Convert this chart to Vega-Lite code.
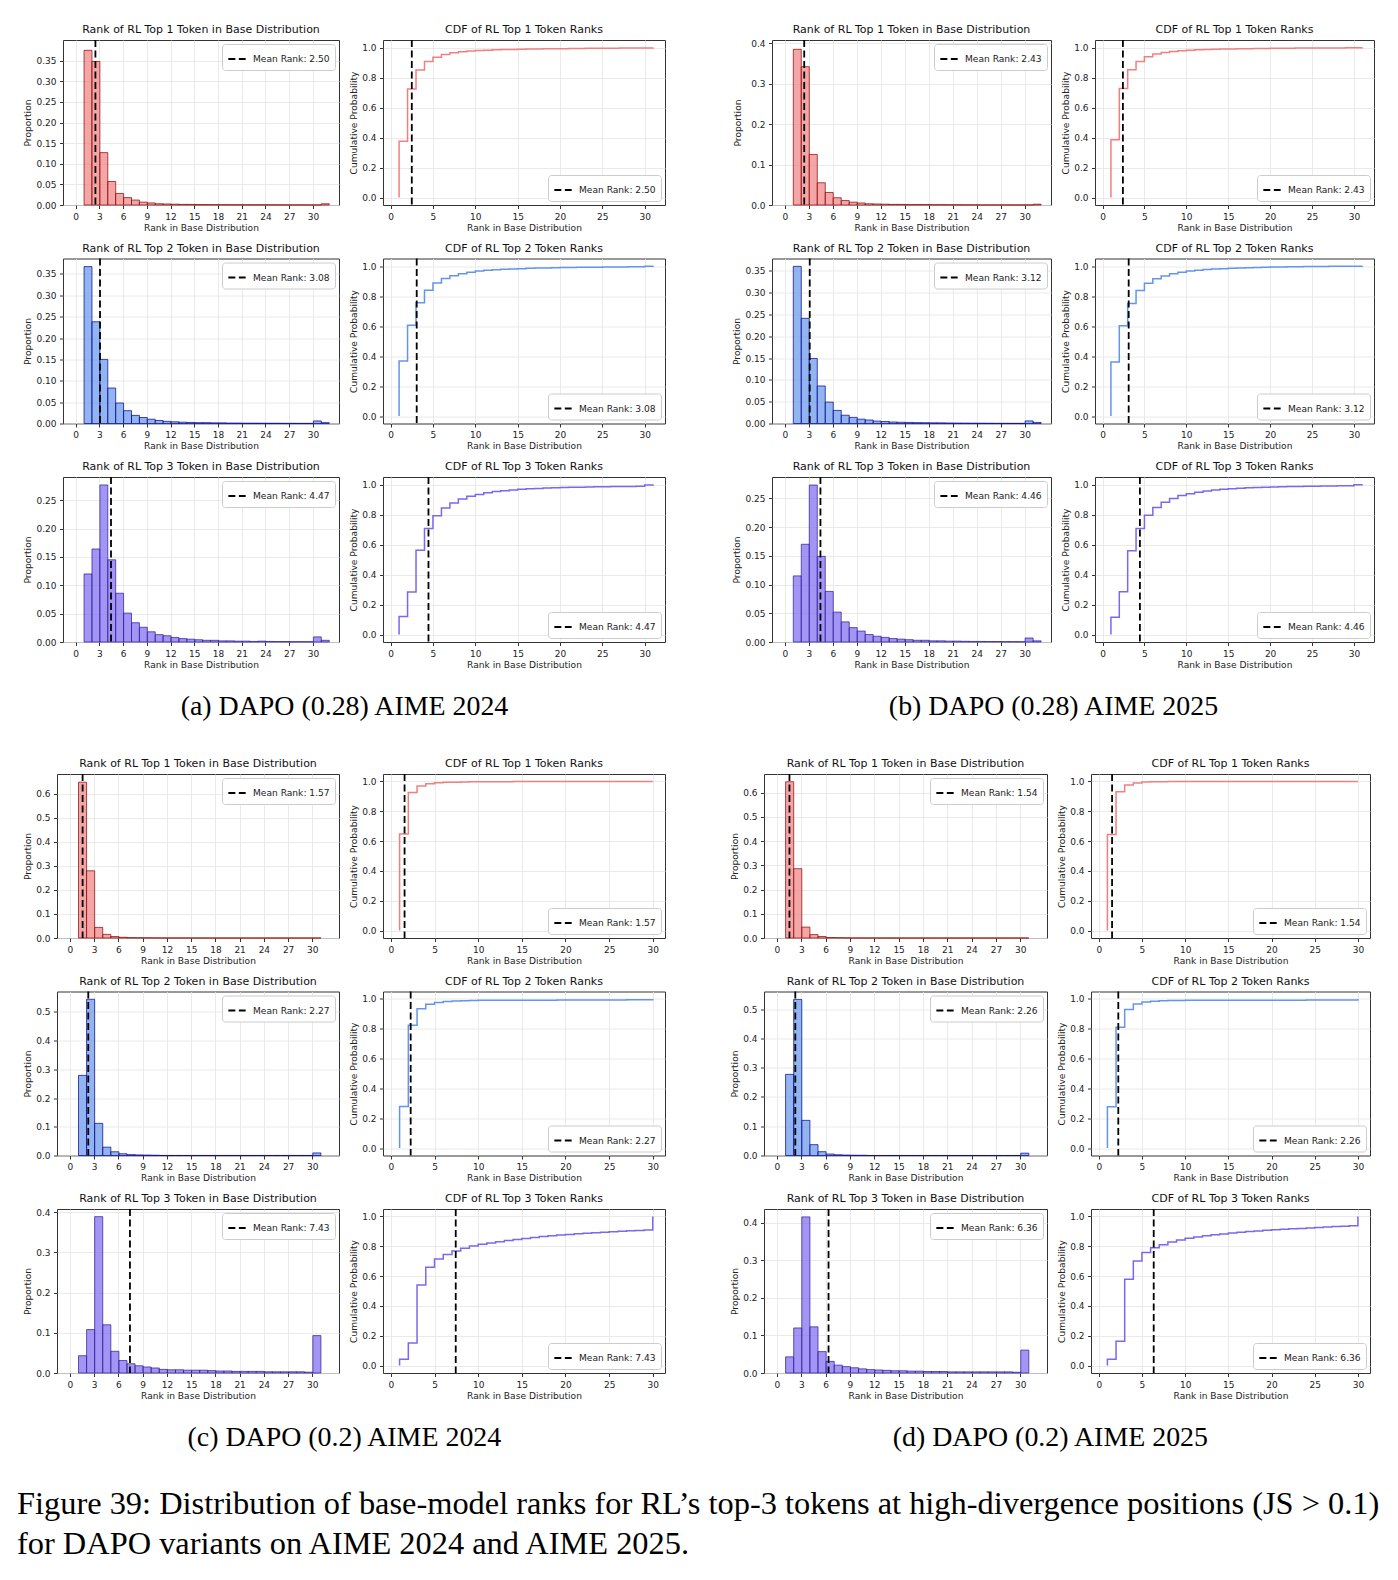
{
"$schema": "https://vega.github.io/schema/vega-lite/v6.json",
"background": "white",
"padding": {"left": 17, "top": 23, "right": 0, "bottom": 0},
"datasets": {
"d": [
{"g":"a1","r":1,"c":0},
{"g":"a1","r":1,"p":0.375,"c":0.375},{"g":"a1","r":2,"p":0.348,"c":0.723},{"g":"a1","r":3,"p":0.127,"c":0.85},{"g":"a1","r":4,"p":0.057,"c":0.907},{"g":"a1","r":5,"p":0.028,"c":0.935},{"g":"a1","r":6,"p":0.018,"c":0.953},{"g":"a1","r":7,"p":0.012,"c":0.965},{"g":"a1","r":8,"p":0.007,"c":0.972},{"g":"a1","r":9,"p":0.005,"c":0.977},{"g":"a1","r":10,"p":0.003,"c":0.98},{"g":"a1","r":11,"p":0.0025,"c":0.9825},{"g":"a1","r":12,"p":0.002,"c":0.9845},{"g":"a1","r":13,"p":0.0015,"c":0.986},{"g":"a1","r":14,"p":0.0015,"c":0.9875},{"g":"a1","r":15,"p":0.001,"c":0.9885},{"g":"a1","r":16,"p":0.001,"c":0.9895},{"g":"a1","r":17,"p":0.0008,"c":0.9903},{"g":"a1","r":18,"p":0.0008,"c":0.9911},{"g":"a1","r":19,"p":0.0007,"c":0.9918},{"g":"a1","r":20,"p":0.0007,"c":0.9925},{"g":"a1","r":21,"p":0.0006,"c":0.9931},{"g":"a1","r":22,"p":0.0006,"c":0.9937},{"g":"a1","r":23,"p":0.0005,"c":0.9942},{"g":"a1","r":24,"p":0.0005,"c":0.9947},{"g":"a1","r":25,"p":0.0005,"c":0.9952},{"g":"a1","r":26,"p":0.0004,"c":0.9956},{"g":"a1","r":27,"p":0.0004,"c":0.996},{"g":"a1","r":28,"p":0.0004,"c":0.9964},{"g":"a1","r":29,"p":0.0003,"c":0.9967},{"g":"a1","r":30,"p":0.0003,"c":0.997},{"g":"a1","r":31,"p":0.003,"c":1},
{"g":"a2","r":1,"c":0},
{"g":"a2","r":1,"p":0.367,"c":0.367},{"g":"a2","r":2,"p":0.238,"c":0.605},{"g":"a2","r":3,"p":0.15,"c":0.755},{"g":"a2","r":4,"p":0.083,"c":0.838},{"g":"a2","r":5,"p":0.048,"c":0.886},{"g":"a2","r":6,"p":0.03,"c":0.916},{"g":"a2","r":7,"p":0.019,"c":0.935},{"g":"a2","r":8,"p":0.014,"c":0.949},{"g":"a2","r":9,"p":0.01,"c":0.959},{"g":"a2","r":10,"p":0.007,"c":0.966},{"g":"a2","r":11,"p":0.005,"c":0.971},{"g":"a2","r":12,"p":0.004,"c":0.975},{"g":"a2","r":13,"p":0.003,"c":0.978},{"g":"a2","r":14,"p":0.0025,"c":0.9805},{"g":"a2","r":15,"p":0.002,"c":0.9825},{"g":"a2","r":16,"p":0.002,"c":0.9845},{"g":"a2","r":17,"p":0.0015,"c":0.986},{"g":"a2","r":18,"p":0.0015,"c":0.9875},{"g":"a2","r":19,"p":0.001,"c":0.9885},{"g":"a2","r":20,"p":0.001,"c":0.9895},{"g":"a2","r":21,"p":0.0008,"c":0.9903},{"g":"a2","r":22,"p":0.0008,"c":0.9911},{"g":"a2","r":23,"p":0.0007,"c":0.9918},{"g":"a2","r":24,"p":0.0006,"c":0.9924},{"g":"a2","r":25,"p":0.0006,"c":0.993},{"g":"a2","r":26,"p":0.0005,"c":0.9935},{"g":"a2","r":27,"p":0.0005,"c":0.994},{"g":"a2","r":28,"p":0.0004,"c":0.9944},{"g":"a2","r":29,"p":0.0004,"c":0.9948},{"g":"a2","r":30,"p":0.006,"c":0.998},{"g":"a2","r":31,"p":0.002,"c":1},
{"g":"a3","r":1,"c":0},
{"g":"a3","r":1,"p":0.12,"c":0.12},{"g":"a3","r":2,"p":0.164,"c":0.284},{"g":"a3","r":3,"p":0.277,"c":0.561},{"g":"a3","r":4,"p":0.145,"c":0.706},{"g":"a3","r":5,"p":0.086,"c":0.792},{"g":"a3","r":6,"p":0.051,"c":0.843},{"g":"a3","r":7,"p":0.034,"c":0.877},{"g":"a3","r":8,"p":0.026,"c":0.903},{"g":"a3","r":9,"p":0.018,"c":0.921},{"g":"a3","r":10,"p":0.013,"c":0.934},{"g":"a3","r":11,"p":0.011,"c":0.945},{"g":"a3","r":12,"p":0.008,"c":0.953},{"g":"a3","r":13,"p":0.006,"c":0.959},{"g":"a3","r":14,"p":0.005,"c":0.964},{"g":"a3","r":15,"p":0.004,"c":0.968},{"g":"a3","r":16,"p":0.003,"c":0.971},{"g":"a3","r":17,"p":0.003,"c":0.974},{"g":"a3","r":18,"p":0.002,"c":0.976},{"g":"a3","r":19,"p":0.002,"c":0.978},{"g":"a3","r":20,"p":0.0015,"c":0.9795},{"g":"a3","r":21,"p":0.0015,"c":0.981},{"g":"a3","r":22,"p":0.001,"c":0.982},{"g":"a3","r":23,"p":0.0015,"c":0.9835},{"g":"a3","r":24,"p":0.001,"c":0.9845},{"g":"a3","r":25,"p":0.0008,"c":0.9853},{"g":"a3","r":26,"p":0.0008,"c":0.9861},{"g":"a3","r":27,"p":0.0006,"c":0.9867},{"g":"a3","r":28,"p":0.0006,"c":0.9873},{"g":"a3","r":29,"p":0.0005,"c":0.9878},{"g":"a3","r":30,"p":0.009,"c":0.9968},{"g":"a3","r":31,"p":0.003,"c":1},
{"g":"b1","r":1,"c":0},
{"g":"b1","r":1,"p":0.385,"c":0.385},{"g":"b1","r":2,"p":0.342,"c":0.727},{"g":"b1","r":3,"p":0.125,"c":0.852},{"g":"b1","r":4,"p":0.055,"c":0.907},{"g":"b1","r":5,"p":0.031,"c":0.938},{"g":"b1","r":6,"p":0.018,"c":0.956},{"g":"b1","r":7,"p":0.011,"c":0.967},{"g":"b1","r":8,"p":0.007,"c":0.974},{"g":"b1","r":9,"p":0.005,"c":0.979},{"g":"b1","r":10,"p":0.003,"c":0.982},{"g":"b1","r":11,"p":0.0025,"c":0.9845},{"g":"b1","r":12,"p":0.002,"c":0.9865},{"g":"b1","r":13,"p":0.0015,"c":0.988},{"g":"b1","r":14,"p":0.0015,"c":0.9895},{"g":"b1","r":15,"p":0.001,"c":0.9905},{"g":"b1","r":16,"p":0.001,"c":0.9915},{"g":"b1","r":17,"p":0.001,"c":0.9925},{"g":"b1","r":18,"p":0.0008,"c":0.9933},{"g":"b1","r":19,"p":0.0007,"c":0.994},{"g":"b1","r":20,"p":0.0006,"c":0.9946},{"g":"b1","r":21,"p":0.0006,"c":0.9952},{"g":"b1","r":22,"p":0.0005,"c":0.9957},{"g":"b1","r":23,"p":0.0004,"c":0.9961},{"g":"b1","r":24,"p":0.0003,"c":0.9964},{"g":"b1","r":25,"p":0.0003,"c":0.9967},{"g":"b1","r":26,"p":0.0003,"c":0.997},{"g":"b1","r":27,"p":0.0003,"c":0.9973},{"g":"b1","r":28,"p":0.0002,"c":0.9975},{"g":"b1","r":29,"p":0.0002,"c":0.9977},{"g":"b1","r":30,"p":0.0003,"c":0.998},{"g":"b1","r":31,"p":0.002,"c":1},
{"g":"b2","r":1,"c":0},
{"g":"b2","r":1,"p":0.36,"c":0.36},{"g":"b2","r":2,"p":0.241,"c":0.601},{"g":"b2","r":3,"p":0.149,"c":0.75},{"g":"b2","r":4,"p":0.086,"c":0.836},{"g":"b2","r":5,"p":0.049,"c":0.885},{"g":"b2","r":6,"p":0.03,"c":0.915},{"g":"b2","r":7,"p":0.019,"c":0.934},{"g":"b2","r":8,"p":0.014,"c":0.948},{"g":"b2","r":9,"p":0.01,"c":0.958},{"g":"b2","r":10,"p":0.008,"c":0.966},{"g":"b2","r":11,"p":0.0055,"c":0.9715},{"g":"b2","r":12,"p":0.0045,"c":0.976},{"g":"b2","r":13,"p":0.0035,"c":0.9795},{"g":"b2","r":14,"p":0.0028,"c":0.9823},{"g":"b2","r":15,"p":0.0025,"c":0.9848},{"g":"b2","r":16,"p":0.002,"c":0.9868},{"g":"b2","r":17,"p":0.0018,"c":0.9886},{"g":"b2","r":18,"p":0.0016,"c":0.9902},{"g":"b2","r":19,"p":0.0015,"c":0.9917},{"g":"b2","r":20,"p":0.0012,"c":0.9929},{"g":"b2","r":21,"p":0.001,"c":0.9939},{"g":"b2","r":22,"p":0.0009,"c":0.9948},{"g":"b2","r":23,"p":0.0008,"c":0.9956},{"g":"b2","r":24,"p":0.0007,"c":0.9963},{"g":"b2","r":25,"p":0.0006,"c":0.9969},{"g":"b2","r":26,"p":0.0005,"c":0.9974},{"g":"b2","r":27,"p":0.0005,"c":0.9979},{"g":"b2","r":28,"p":0.0004,"c":0.9983},{"g":"b2","r":29,"p":0.0004,"c":0.9987},{"g":"b2","r":30,"p":0.006,"c":0.999},{"g":"b2","r":31,"p":0.0025,"c":1},
{"g":"b3","r":1,"c":0},
{"g":"b3","r":1,"p":0.115,"c":0.115},{"g":"b3","r":2,"p":0.17,"c":0.285},{"g":"b3","r":3,"p":0.273,"c":0.558},{"g":"b3","r":4,"p":0.149,"c":0.707},{"g":"b3","r":5,"p":0.088,"c":0.795},{"g":"b3","r":6,"p":0.052,"c":0.847},{"g":"b3","r":7,"p":0.035,"c":0.882},{"g":"b3","r":8,"p":0.025,"c":0.907},{"g":"b3","r":9,"p":0.019,"c":0.926},{"g":"b3","r":10,"p":0.013,"c":0.939},{"g":"b3","r":11,"p":0.01,"c":0.949},{"g":"b3","r":12,"p":0.008,"c":0.957},{"g":"b3","r":13,"p":0.006,"c":0.963},{"g":"b3","r":14,"p":0.005,"c":0.968},{"g":"b3","r":15,"p":0.004,"c":0.972},{"g":"b3","r":16,"p":0.003,"c":0.975},{"g":"b3","r":17,"p":0.003,"c":0.978},{"g":"b3","r":18,"p":0.002,"c":0.98},{"g":"b3","r":19,"p":0.002,"c":0.982},{"g":"b3","r":20,"p":0.0015,"c":0.9835},{"g":"b3","r":21,"p":0.0015,"c":0.985},{"g":"b3","r":22,"p":0.0012,"c":0.9862},{"g":"b3","r":23,"p":0.001,"c":0.9872},{"g":"b3","r":24,"p":0.001,"c":0.9882},{"g":"b3","r":25,"p":0.0008,"c":0.989},{"g":"b3","r":26,"p":0.0008,"c":0.9898},{"g":"b3","r":27,"p":0.0006,"c":0.9904},{"g":"b3","r":28,"p":0.0006,"c":0.991},{"g":"b3","r":29,"p":0.0005,"c":0.9915},{"g":"b3","r":30,"p":0.007,"c":0.9985},{"g":"b3","r":31,"p":0.002,"c":1},
{"g":"c1","r":1,"c":0},
{"g":"c1","r":1,"p":0.647,"c":0.647},{"g":"c1","r":2,"p":0.279,"c":0.926},{"g":"c1","r":3,"p":0.044,"c":0.97},{"g":"c1","r":4,"p":0.015,"c":0.985},{"g":"c1","r":5,"p":0.006,"c":0.991},{"g":"c1","r":6,"p":0.003,"c":0.994},{"g":"c1","r":7,"p":0.0015,"c":0.9955},{"g":"c1","r":8,"p":0.001,"c":0.9965},{"g":"c1","r":9,"p":0.0008,"c":0.9973},{"g":"c1","r":10,"p":0.0006,"c":0.9979},{"g":"c1","r":11,"p":0.0003,"c":0.9982},{"g":"c1","r":12,"p":0.0003,"c":0.9985},{"g":"c1","r":13,"p":0.0003,"c":0.9988},{"g":"c1","r":14,"p":0.0002,"c":0.999},{"g":"c1","r":15,"p":0.0002,"c":0.9992},{"g":"c1","r":16,"p":0.0002,"c":0.9994},{"g":"c1","r":17,"p":0.0001,"c":0.9995},{"g":"c1","r":18,"p":0.0001,"c":0.9996},{"g":"c1","r":19,"p":0.0001,"c":0.9997},{"g":"c1","r":20,"p":0.0001,"c":0.9997},{"g":"c1","r":21,"p":0.0001,"c":0.9998},{"g":"c1","r":22,"p":0.0001,"c":0.9998},{"g":"c1","r":23,"p":0.0001,"c":0.9998},{"g":"c1","r":24,"p":0.0001,"c":0.9999},{"g":"c1","r":25,"p":0.0001,"c":0.9999},{"g":"c1","r":26,"p":0.0001,"c":0.9999},{"g":"c1","r":27,"p":0.0001,"c":0.9999},{"g":"c1","r":28,"p":0.0001,"c":1},{"g":"c1","r":29,"p":0.0001,"c":1},{"g":"c1","r":30,"p":0.0001,"c":1},
{"g":"c2","r":1,"c":0},
{"g":"c2","r":1,"p":0.279,"c":0.279},{"g":"c2","r":2,"p":0.544,"c":0.823},{"g":"c2","r":3,"p":0.112,"c":0.935},{"g":"c2","r":4,"p":0.029,"c":0.964},{"g":"c2","r":5,"p":0.013,"c":0.977},{"g":"c2","r":6,"p":0.006,"c":0.983},{"g":"c2","r":7,"p":0.003,"c":0.986},{"g":"c2","r":8,"p":0.002,"c":0.988},{"g":"c2","r":9,"p":0.0015,"c":0.9895},{"g":"c2","r":10,"p":0.001,"c":0.9905},{"g":"c2","r":11,"p":0.0002,"c":0.9907},{"g":"c2","r":12,"p":0.0002,"c":0.9909},{"g":"c2","r":13,"p":0.0002,"c":0.9911},{"g":"c2","r":14,"p":0.0002,"c":0.9913},{"g":"c2","r":15,"p":0.0002,"c":0.9915},{"g":"c2","r":16,"p":0.0002,"c":0.9917},{"g":"c2","r":17,"p":0.0002,"c":0.9919},{"g":"c2","r":18,"p":0.0002,"c":0.9921},{"g":"c2","r":19,"p":0.0002,"c":0.9923},{"g":"c2","r":20,"p":0.0002,"c":0.9925},{"g":"c2","r":21,"p":0.0002,"c":0.9927},{"g":"c2","r":22,"p":0.0002,"c":0.9929},{"g":"c2","r":23,"p":0.0002,"c":0.9931},{"g":"c2","r":24,"p":0.0002,"c":0.9933},{"g":"c2","r":25,"p":0.0002,"c":0.9935},{"g":"c2","r":26,"p":0.0002,"c":0.9937},{"g":"c2","r":27,"p":0.0002,"c":0.9939},{"g":"c2","r":28,"p":0.0002,"c":0.9941},{"g":"c2","r":29,"p":0.0002,"c":0.9943},{"g":"c2","r":30,"p":0.009,"c":1},
{"g":"c3","r":1,"c":0},
{"g":"c3","r":1,"p":0.043,"c":0.043},{"g":"c3","r":2,"p":0.108,"c":0.151},{"g":"c3","r":3,"p":0.389,"c":0.54},{"g":"c3","r":4,"p":0.12,"c":0.66},{"g":"c3","r":5,"p":0.054,"c":0.714},{"g":"c3","r":6,"p":0.031,"c":0.745},{"g":"c3","r":7,"p":0.023,"c":0.768},{"g":"c3","r":8,"p":0.018,"c":0.786},{"g":"c3","r":9,"p":0.015,"c":0.801},{"g":"c3","r":10,"p":0.0125,"c":0.8135},{"g":"c3","r":11,"p":0.009,"c":0.8225},{"g":"c3","r":12,"p":0.008,"c":0.8305},{"g":"c3","r":13,"p":0.008,"c":0.8385},{"g":"c3","r":14,"p":0.007,"c":0.8455},{"g":"c3","r":15,"p":0.007,"c":0.8525},{"g":"c3","r":16,"p":0.007,"c":0.8595},{"g":"c3","r":17,"p":0.006,"c":0.8655},{"g":"c3","r":18,"p":0.005,"c":0.8705},{"g":"c3","r":19,"p":0.005,"c":0.8755},{"g":"c3","r":20,"p":0.004,"c":0.8795},{"g":"c3","r":21,"p":0.004,"c":0.8835},{"g":"c3","r":22,"p":0.004,"c":0.8875},{"g":"c3","r":23,"p":0.004,"c":0.8915},{"g":"c3","r":24,"p":0.003,"c":0.8945},{"g":"c3","r":25,"p":0.003,"c":0.8975},{"g":"c3","r":26,"p":0.003,"c":0.9005},{"g":"c3","r":27,"p":0.003,"c":0.9035},{"g":"c3","r":28,"p":0.003,"c":0.9065},{"g":"c3","r":29,"p":0.002,"c":0.9085},{"g":"c3","r":30,"p":0.093,"c":1},
{"g":"d1","r":1,"c":0},
{"g":"d1","r":1,"p":0.645,"c":0.645},{"g":"d1","r":2,"p":0.286,"c":0.931},{"g":"d1","r":3,"p":0.045,"c":0.976},{"g":"d1","r":4,"p":0.014,"c":0.99},{"g":"d1","r":5,"p":0.006,"c":0.996},{"g":"d1","r":6,"p":0.002,"c":0.998},{"g":"d1","r":7,"p":0.0012,"c":0.9985},{"g":"d1","r":8,"p":0.0008,"c":0.999},{"g":"d1","r":9,"p":0.0003,"c":0.9992},{"g":"d1","r":10,"p":0.0003,"c":0.9994},{"g":"d1","r":11,"p":0.0002,"c":0.9995},{"g":"d1","r":12,"p":0.0002,"c":0.9996},{"g":"d1","r":13,"p":0.0002,"c":0.9996},{"g":"d1","r":14,"p":0.0002,"c":0.9997},{"g":"d1","r":15,"p":0.0001,"c":0.9997},{"g":"d1","r":16,"p":0.0001,"c":0.9997},{"g":"d1","r":17,"p":0.0001,"c":0.9998},{"g":"d1","r":18,"p":0.0001,"c":0.9998},{"g":"d1","r":19,"p":0.0001,"c":0.9998},{"g":"d1","r":20,"p":0.0001,"c":0.9998},{"g":"d1","r":21,"p":0.0001,"c":0.9999},{"g":"d1","r":22,"p":0.0001,"c":0.9999},{"g":"d1","r":23,"p":0.0001,"c":0.9999},{"g":"d1","r":24,"p":0.0001,"c":0.9999},{"g":"d1","r":25,"p":0.0001,"c":0.9999},{"g":"d1","r":26,"p":0.0001,"c":1},{"g":"d1","r":27,"p":0.0001,"c":1},{"g":"d1","r":28,"p":0.0001,"c":1},{"g":"d1","r":29,"p":0.0001,"c":1},{"g":"d1","r":30,"p":0.0001,"c":1},
{"g":"d2","r":1,"c":0},
{"g":"d2","r":1,"p":0.277,"c":0.277},{"g":"d2","r":2,"p":0.533,"c":0.81},{"g":"d2","r":3,"p":0.12,"c":0.93},{"g":"d2","r":4,"p":0.037,"c":0.967},{"g":"d2","r":5,"p":0.013,"c":0.98},{"g":"d2","r":6,"p":0.005,"c":0.985},{"g":"d2","r":7,"p":0.0025,"c":0.9875},{"g":"d2","r":8,"p":0.0015,"c":0.989},{"g":"d2","r":9,"p":0.001,"c":0.99},{"g":"d2","r":10,"p":0.0008,"c":0.9908},{"g":"d2","r":11,"p":0.0001,"c":0.9909},{"g":"d2","r":12,"p":0.0001,"c":0.991},{"g":"d2","r":13,"p":0.0001,"c":0.9911},{"g":"d2","r":14,"p":0.0001,"c":0.9912},{"g":"d2","r":15,"p":0.0001,"c":0.9913},{"g":"d2","r":16,"p":0.0001,"c":0.9914},{"g":"d2","r":17,"p":0.0001,"c":0.9915},{"g":"d2","r":18,"p":0.0001,"c":0.9916},{"g":"d2","r":19,"p":0.0001,"c":0.9917},{"g":"d2","r":20,"p":0.0001,"c":0.9918},{"g":"d2","r":21,"p":0.0001,"c":0.9919},{"g":"d2","r":22,"p":0.0001,"c":0.992},{"g":"d2","r":23,"p":0.0001,"c":0.9921},{"g":"d2","r":24,"p":0.0001,"c":0.9922},{"g":"d2","r":25,"p":0.0001,"c":0.9923},{"g":"d2","r":26,"p":0.0001,"c":0.9924},{"g":"d2","r":27,"p":0.0001,"c":0.9925},{"g":"d2","r":28,"p":0.0001,"c":0.9926},{"g":"d2","r":29,"p":0.0001,"c":0.9927},{"g":"d2","r":30,"p":0.008,"c":1},
{"g":"d3","r":1,"c":0},
{"g":"d3","r":1,"p":0.043,"c":0.043},{"g":"d3","r":2,"p":0.12,"c":0.163},{"g":"d3","r":3,"p":0.416,"c":0.579},{"g":"d3","r":4,"p":0.123,"c":0.702},{"g":"d3","r":5,"p":0.057,"c":0.759},{"g":"d3","r":6,"p":0.031,"c":0.79},{"g":"d3","r":7,"p":0.021,"c":0.811},{"g":"d3","r":8,"p":0.017,"c":0.828},{"g":"d3","r":9,"p":0.014,"c":0.842},{"g":"d3","r":10,"p":0.011,"c":0.853},{"g":"d3","r":11,"p":0.009,"c":0.862},{"g":"d3","r":12,"p":0.008,"c":0.87},{"g":"d3","r":13,"p":0.007,"c":0.877},{"g":"d3","r":14,"p":0.006,"c":0.883},{"g":"d3","r":15,"p":0.006,"c":0.889},{"g":"d3","r":16,"p":0.005,"c":0.894},{"g":"d3","r":17,"p":0.005,"c":0.899},{"g":"d3","r":18,"p":0.004,"c":0.903},{"g":"d3","r":19,"p":0.004,"c":0.907},{"g":"d3","r":20,"p":0.004,"c":0.911},{"g":"d3","r":21,"p":0.003,"c":0.914},{"g":"d3","r":22,"p":0.003,"c":0.917},{"g":"d3","r":23,"p":0.003,"c":0.92},{"g":"d3","r":24,"p":0.003,"c":0.923},{"g":"d3","r":25,"p":0.003,"c":0.926},{"g":"d3","r":26,"p":0.003,"c":0.929},{"g":"d3","r":27,"p":0.003,"c":0.932},{"g":"d3","r":28,"p":0.003,"c":0.935},{"g":"d3","r":29,"p":0.002,"c":0.937},{"g":"d3","r":30,"p":0.061,"c":1}
],
"m": [
{"g":"a1","m":2.50,"l":"Mean Rank: 2.50"},{"g":"a2","m":3.08,"l":"Mean Rank: 3.08"},{"g":"a3","m":4.47,"l":"Mean Rank: 4.47"},
{"g":"b1","m":2.43,"l":"Mean Rank: 2.43"},{"g":"b2","m":3.12,"l":"Mean Rank: 3.12"},{"g":"b3","m":4.46,"l":"Mean Rank: 4.46"},
{"g":"c1","m":1.57,"l":"Mean Rank: 1.57"},{"g":"c2","m":2.27,"l":"Mean Rank: 2.27"},{"g":"c3","m":7.43,"l":"Mean Rank: 7.43"},
{"g":"d1","m":1.54,"l":"Mean Rank: 1.54"},{"g":"d2","m":2.26,"l":"Mean Rank: 2.26"},{"g":"d3","m":6.36,"l":"Mean Rank: 6.36"}
]
},
"title": {"text": ["Figure 39: Distribution of base-model ranks for RL’s top-3 tokens at high-divergence positions (JS > 0.1)", "for DAPO variants on AIME 2024 and AIME 2025."], "orient": "bottom", "anchor": "start", "frame": "bounds", "font": "Liberation Serif", "fontSize": 32.4, "lineHeight": 40, "offset": 36, "dx": -5, "color": "black"},
"columns": 1,
"align": "none",
"spacing": 36,
"resolve": {"scale": {"strokeDash": "independent"}, "legend": {"strokeDash": "independent"}},
"concat": [
{"hconcat": [
{"hconcat": [
{"width":1,"height":1,"data":{"values":[]},"mark":"point","view":{"stroke":null}},
{"concat": [
{"width":276,"height":165,"title":"Rank of RL Top 1 Token in Base Distribution","layer":[
 {"data":{"name":"d"},"transform":[{"filter":"datum.g=='a1'&&isValid(datum.p)"}],"mark":{"type":"bar","fill":"#f08080","fillOpacity":0.7,"stroke":"#8b0000","strokeOpacity":0.7,"strokeWidth":1,"binSpacing":0},
  "encoding":{"x":{"field":"r","type":"quantitative","bin":{"binned":true,"step":1},"scale":{"domain":[-1.6,33.3],"nice":false,"zero":false},"axis":{"values":[0,3,6,9,12,15,18,21,24,27,30],"title":"Rank in Base Distribution"}},
  "y":{"field":"p","type":"quantitative","scale":{"domain":[0,0.4],"nice":false},"axis":{"values":[0,0.05,0.1,0.15,0.2,0.25,0.3,0.35],"format":".2f","title":"Proportion"}}}},
 {"data":{"name":"m"},"transform":[{"filter":"datum.g=='a1'"}],"mark":{"type":"rule","color":"black","strokeWidth":1.8},
  "encoding":{"x":{"field":"m","type":"quantitative","axis":{"values":[0,3,6,9,12,15,18,21,24,27,30],"title":"Rank in Base Distribution"}},"strokeDash":{"field":"l","type":"nominal","scale":{"range":[[7,3.5]]},"legend":{"orient":"top-right","title":null}}}}]},
{"width":282,"height":165,"title":"CDF of RL Top 1 Token Ranks","layer":[
 {"data":{"name":"d"},"transform":[{"filter":"datum.g=='a1'"}],"mark":{"type":"line","interpolate":"step-after","color":"#f08080","strokeWidth":1.5},
  "encoding":{"x":{"field":"r","type":"quantitative","scale":{"domain":[-0.9,32.4],"nice":false,"zero":false},"axis":{"values":[0,5,10,15,20,25,30],"title":"Rank in Base Distribution"}},
  "y":{"field":"c","type":"quantitative","scale":{"domain":[-0.05,1.05],"nice":false,"zero":false},"axis":{"values":[0,0.2,0.4,0.6,0.8,1],"format":".1f","title":"Cumulative Probability"}},"order":[{"field":"r"},{"field":"c"}]}},
 {"data":{"name":"m"},"transform":[{"filter":"datum.g=='a1'"}],"mark":{"type":"rule","color":"black","strokeWidth":1.8},
  "encoding":{"x":{"field":"m","type":"quantitative","axis":{"values":[0,5,10,15,20,25,30],"title":"Rank in Base Distribution"}},"strokeDash":{"field":"l","type":"nominal","scale":{"range":[[7,3.5]]},"legend":{"orient":"bottom-right","title":null}}}}]},
{"width":276,"height":165,"title":"Rank of RL Top 2 Token in Base Distribution","layer":[
 {"data":{"name":"d"},"transform":[{"filter":"datum.g=='a2'&&isValid(datum.p)"}],"mark":{"type":"bar","fill":"#6495ed","fillOpacity":0.7,"stroke":"#00008b","strokeOpacity":0.7,"strokeWidth":1,"binSpacing":0},
  "encoding":{"x":{"field":"r","type":"quantitative","bin":{"binned":true,"step":1},"scale":{"domain":[-1.6,33.3],"nice":false,"zero":false},"axis":{"values":[0,3,6,9,12,15,18,21,24,27,30],"title":"Rank in Base Distribution"}},
  "y":{"field":"p","type":"quantitative","scale":{"domain":[0,0.386],"nice":false},"axis":{"values":[0,0.05,0.1,0.15,0.2,0.25,0.3,0.35],"format":".2f","title":"Proportion"}}}},
 {"data":{"name":"m"},"transform":[{"filter":"datum.g=='a2'"}],"mark":{"type":"rule","color":"black","strokeWidth":1.8},
  "encoding":{"x":{"field":"m","type":"quantitative","axis":{"values":[0,3,6,9,12,15,18,21,24,27,30],"title":"Rank in Base Distribution"}},"strokeDash":{"field":"l","type":"nominal","scale":{"range":[[7,3.5]]},"legend":{"orient":"top-right","title":null}}}}]},
{"width":282,"height":165,"title":"CDF of RL Top 2 Token Ranks","layer":[
 {"data":{"name":"d"},"transform":[{"filter":"datum.g=='a2'"}],"mark":{"type":"line","interpolate":"step-after","color":"#6495ed","strokeWidth":1.5},
  "encoding":{"x":{"field":"r","type":"quantitative","scale":{"domain":[-0.9,32.4],"nice":false,"zero":false},"axis":{"values":[0,5,10,15,20,25,30],"title":"Rank in Base Distribution"}},
  "y":{"field":"c","type":"quantitative","scale":{"domain":[-0.05,1.05],"nice":false,"zero":false},"axis":{"values":[0,0.2,0.4,0.6,0.8,1],"format":".1f","title":"Cumulative Probability"}},"order":[{"field":"r"},{"field":"c"}]}},
 {"data":{"name":"m"},"transform":[{"filter":"datum.g=='a2'"}],"mark":{"type":"rule","color":"black","strokeWidth":1.8},
  "encoding":{"x":{"field":"m","type":"quantitative","axis":{"values":[0,5,10,15,20,25,30],"title":"Rank in Base Distribution"}},"strokeDash":{"field":"l","type":"nominal","scale":{"range":[[7,3.5]]},"legend":{"orient":"bottom-right","title":null}}}}]},
{"width":276,"height":165,"title":"Rank of RL Top 3 Token in Base Distribution","layer":[
 {"data":{"name":"d"},"transform":[{"filter":"datum.g=='a3'&&isValid(datum.p)"}],"mark":{"type":"bar","fill":"#7b68ee","fillOpacity":0.7,"stroke":"#2a1a9a","strokeOpacity":0.7,"strokeWidth":1,"binSpacing":0},
  "encoding":{"x":{"field":"r","type":"quantitative","bin":{"binned":true,"step":1},"scale":{"domain":[-1.6,33.3],"nice":false,"zero":false},"axis":{"values":[0,3,6,9,12,15,18,21,24,27,30],"title":"Rank in Base Distribution"}},
  "y":{"field":"p","type":"quantitative","scale":{"domain":[0,0.291],"nice":false},"axis":{"values":[0,0.05,0.1,0.15,0.2,0.25],"format":".2f","title":"Proportion"}}}},
 {"data":{"name":"m"},"transform":[{"filter":"datum.g=='a3'"}],"mark":{"type":"rule","color":"black","strokeWidth":1.8},
  "encoding":{"x":{"field":"m","type":"quantitative","axis":{"values":[0,3,6,9,12,15,18,21,24,27,30],"title":"Rank in Base Distribution"}},"strokeDash":{"field":"l","type":"nominal","scale":{"range":[[7,3.5]]},"legend":{"orient":"top-right","title":null}}}}]},
{"width":282,"height":165,"title":"CDF of RL Top 3 Token Ranks","layer":[
 {"data":{"name":"d"},"transform":[{"filter":"datum.g=='a3'"}],"mark":{"type":"line","interpolate":"step-after","color":"#7b68ee","strokeWidth":1.5},
  "encoding":{"x":{"field":"r","type":"quantitative","scale":{"domain":[-0.9,32.4],"nice":false,"zero":false},"axis":{"values":[0,5,10,15,20,25,30],"title":"Rank in Base Distribution"}},
  "y":{"field":"c","type":"quantitative","scale":{"domain":[-0.05,1.05],"nice":false,"zero":false},"axis":{"values":[0,0.2,0.4,0.6,0.8,1],"format":".1f","title":"Cumulative Probability"}},"order":[{"field":"r"},{"field":"c"}]}},
 {"data":{"name":"m"},"transform":[{"filter":"datum.g=='a3'"}],"mark":{"type":"rule","color":"black","strokeWidth":1.8},
  "encoding":{"x":{"field":"m","type":"quantitative","axis":{"values":[0,5,10,15,20,25,30],"title":"Rank in Base Distribution"}},"strokeDash":{"field":"l","type":"nominal","scale":{"range":[[7,3.5]]},"legend":{"orient":"bottom-right","title":null}}}}]}
],"columns":2,"spacing":{"column":9,"row":8.5},
"resolve": {"scale": {"strokeDash": "independent"}, "legend": {"strokeDash": "independent"}},
"title":{"text":"(a) DAPO (0.28) AIME 2024","orient":"bottom","anchor":"middle","frame":"bounds","font":"Liberation Serif","fontSize":27.9,"offset":23,"color":"black"}}
],"spacing":0,"resolve": {"scale": {"strokeDash": "independent"}, "legend": {"strokeDash": "independent"}}},
{"concat": [
{"width":279,"height":165,"title":"Rank of RL Top 1 Token in Base Distribution","layer":[
 {"data":{"name":"d"},"transform":[{"filter":"datum.g=='b1'&&isValid(datum.p)"}],"mark":{"type":"bar","fill":"#f08080","fillOpacity":0.7,"stroke":"#8b0000","strokeOpacity":0.7,"strokeWidth":1,"binSpacing":0},
  "encoding":{"x":{"field":"r","type":"quantitative","bin":{"binned":true,"step":1},"scale":{"domain":[-1.6,33.3],"nice":false,"zero":false},"axis":{"values":[0,3,6,9,12,15,18,21,24,27,30],"title":"Rank in Base Distribution"}},
  "y":{"field":"p","type":"quantitative","scale":{"domain":[0,0.408],"nice":false},"axis":{"values":[0,0.1,0.2,0.3,0.4],"format":".1f","title":"Proportion","minExtent":27}}}},
 {"data":{"name":"m"},"transform":[{"filter":"datum.g=='b1'"}],"mark":{"type":"rule","color":"black","strokeWidth":1.8},
  "encoding":{"x":{"field":"m","type":"quantitative","axis":{"values":[0,3,6,9,12,15,18,21,24,27,30],"title":"Rank in Base Distribution"}},"strokeDash":{"field":"l","type":"nominal","scale":{"range":[[7,3.5]]},"legend":{"orient":"top-right","title":null}}}}]},
{"width":279,"height":165,"title":"CDF of RL Top 1 Token Ranks","layer":[
 {"data":{"name":"d"},"transform":[{"filter":"datum.g=='b1'"}],"mark":{"type":"line","interpolate":"step-after","color":"#f08080","strokeWidth":1.5},
  "encoding":{"x":{"field":"r","type":"quantitative","scale":{"domain":[-0.9,32.4],"nice":false,"zero":false},"axis":{"values":[0,5,10,15,20,25,30],"title":"Rank in Base Distribution"}},
  "y":{"field":"c","type":"quantitative","scale":{"domain":[-0.05,1.05],"nice":false,"zero":false},"axis":{"values":[0,0.2,0.4,0.6,0.8,1],"format":".1f","title":"Cumulative Probability"}},"order":[{"field":"r"},{"field":"c"}]}},
 {"data":{"name":"m"},"transform":[{"filter":"datum.g=='b1'"}],"mark":{"type":"rule","color":"black","strokeWidth":1.8},
  "encoding":{"x":{"field":"m","type":"quantitative","axis":{"values":[0,5,10,15,20,25,30],"title":"Rank in Base Distribution"}},"strokeDash":{"field":"l","type":"nominal","scale":{"range":[[7,3.5]]},"legend":{"orient":"bottom-right","title":null}}}}]},
{"width":279,"height":165,"title":"Rank of RL Top 2 Token in Base Distribution","layer":[
 {"data":{"name":"d"},"transform":[{"filter":"datum.g=='b2'&&isValid(datum.p)"}],"mark":{"type":"bar","fill":"#6495ed","fillOpacity":0.7,"stroke":"#00008b","strokeOpacity":0.7,"strokeWidth":1,"binSpacing":0},
  "encoding":{"x":{"field":"r","type":"quantitative","bin":{"binned":true,"step":1},"scale":{"domain":[-1.6,33.3],"nice":false,"zero":false},"axis":{"values":[0,3,6,9,12,15,18,21,24,27,30],"title":"Rank in Base Distribution"}},
  "y":{"field":"p","type":"quantitative","scale":{"domain":[0,0.378],"nice":false},"axis":{"values":[0,0.05,0.1,0.15,0.2,0.25,0.3,0.35],"format":".2f","title":"Proportion"}}}},
 {"data":{"name":"m"},"transform":[{"filter":"datum.g=='b2'"}],"mark":{"type":"rule","color":"black","strokeWidth":1.8},
  "encoding":{"x":{"field":"m","type":"quantitative","axis":{"values":[0,3,6,9,12,15,18,21,24,27,30],"title":"Rank in Base Distribution"}},"strokeDash":{"field":"l","type":"nominal","scale":{"range":[[7,3.5]]},"legend":{"orient":"top-right","title":null}}}}]},
{"width":279,"height":165,"title":"CDF of RL Top 2 Token Ranks","layer":[
 {"data":{"name":"d"},"transform":[{"filter":"datum.g=='b2'"}],"mark":{"type":"line","interpolate":"step-after","color":"#6495ed","strokeWidth":1.5},
  "encoding":{"x":{"field":"r","type":"quantitative","scale":{"domain":[-0.9,32.4],"nice":false,"zero":false},"axis":{"values":[0,5,10,15,20,25,30],"title":"Rank in Base Distribution"}},
  "y":{"field":"c","type":"quantitative","scale":{"domain":[-0.05,1.05],"nice":false,"zero":false},"axis":{"values":[0,0.2,0.4,0.6,0.8,1],"format":".1f","title":"Cumulative Probability"}},"order":[{"field":"r"},{"field":"c"}]}},
 {"data":{"name":"m"},"transform":[{"filter":"datum.g=='b2'"}],"mark":{"type":"rule","color":"black","strokeWidth":1.8},
  "encoding":{"x":{"field":"m","type":"quantitative","axis":{"values":[0,5,10,15,20,25,30],"title":"Rank in Base Distribution"}},"strokeDash":{"field":"l","type":"nominal","scale":{"range":[[7,3.5]]},"legend":{"orient":"bottom-right","title":null}}}}]},
{"width":279,"height":165,"title":"Rank of RL Top 3 Token in Base Distribution","layer":[
 {"data":{"name":"d"},"transform":[{"filter":"datum.g=='b3'&&isValid(datum.p)"}],"mark":{"type":"bar","fill":"#7b68ee","fillOpacity":0.7,"stroke":"#2a1a9a","strokeOpacity":0.7,"strokeWidth":1,"binSpacing":0},
  "encoding":{"x":{"field":"r","type":"quantitative","bin":{"binned":true,"step":1},"scale":{"domain":[-1.6,33.3],"nice":false,"zero":false},"axis":{"values":[0,3,6,9,12,15,18,21,24,27,30],"title":"Rank in Base Distribution"}},
  "y":{"field":"p","type":"quantitative","scale":{"domain":[0,0.287],"nice":false},"axis":{"values":[0,0.05,0.1,0.15,0.2,0.25],"format":".2f","title":"Proportion"}}}},
 {"data":{"name":"m"},"transform":[{"filter":"datum.g=='b3'"}],"mark":{"type":"rule","color":"black","strokeWidth":1.8},
  "encoding":{"x":{"field":"m","type":"quantitative","axis":{"values":[0,3,6,9,12,15,18,21,24,27,30],"title":"Rank in Base Distribution"}},"strokeDash":{"field":"l","type":"nominal","scale":{"range":[[7,3.5]]},"legend":{"orient":"top-right","title":null}}}}]},
{"width":279,"height":165,"title":"CDF of RL Top 3 Token Ranks","layer":[
 {"data":{"name":"d"},"transform":[{"filter":"datum.g=='b3'"}],"mark":{"type":"line","interpolate":"step-after","color":"#7b68ee","strokeWidth":1.5},
  "encoding":{"x":{"field":"r","type":"quantitative","scale":{"domain":[-0.9,32.4],"nice":false,"zero":false},"axis":{"values":[0,5,10,15,20,25,30],"title":"Rank in Base Distribution"}},
  "y":{"field":"c","type":"quantitative","scale":{"domain":[-0.05,1.05],"nice":false,"zero":false},"axis":{"values":[0,0.2,0.4,0.6,0.8,1],"format":".1f","title":"Cumulative Probability"}},"order":[{"field":"r"},{"field":"c"}]}},
 {"data":{"name":"m"},"transform":[{"filter":"datum.g=='b3'"}],"mark":{"type":"rule","color":"black","strokeWidth":1.8},
  "encoding":{"x":{"field":"m","type":"quantitative","axis":{"values":[0,5,10,15,20,25,30],"title":"Rank in Base Distribution"}},"strokeDash":{"field":"l","type":"nominal","scale":{"range":[[7,3.5]]},"legend":{"orient":"bottom-right","title":null}}}}]}
],"columns":2,"spacing":{"column":9,"row":8.5},
"resolve": {"scale": {"strokeDash": "independent"}, "legend": {"strokeDash": "independent"}},
"title":{"text":"(b) DAPO (0.28) AIME 2025","orient":"bottom","anchor":"middle","frame":"bounds","font":"Liberation Serif","fontSize":27.9,"offset":23,"color":"black"}}
],"spacing":66,"resolve": {"scale": {"strokeDash": "independent"}, "legend": {"strokeDash": "independent"}}},
{"hconcat": [
{"hconcat": [
{"width":1,"height":1,"data":{"values":[]},"mark":"point","view":{"stroke":null}},
{"concat": [
{"width":282,"height":164,"title":"Rank of RL Top 1 Token in Base Distribution","layer":[
 {"data":{"name":"d"},"transform":[{"filter":"datum.g=='c1'&&isValid(datum.p)"}],"mark":{"type":"bar","fill":"#f08080","fillOpacity":0.7,"stroke":"#8b0000","strokeOpacity":0.7,"strokeWidth":1,"binSpacing":0},
  "encoding":{"x":{"field":"r","type":"quantitative","bin":{"binned":true,"step":1},"scale":{"domain":[-1.6,33.3],"nice":false,"zero":false},"axis":{"values":[0,3,6,9,12,15,18,21,24,27,30],"title":"Rank in Base Distribution"}},
  "y":{"field":"p","type":"quantitative","scale":{"domain":[0,0.681],"nice":false},"axis":{"values":[0,0.1,0.2,0.3,0.4,0.5,0.6],"format":".1f","title":"Proportion"}}}},
 {"data":{"name":"m"},"transform":[{"filter":"datum.g=='c1'"}],"mark":{"type":"rule","color":"black","strokeWidth":1.8},
  "encoding":{"x":{"field":"m","type":"quantitative","axis":{"values":[0,3,6,9,12,15,18,21,24,27,30],"title":"Rank in Base Distribution"}},"strokeDash":{"field":"l","type":"nominal","scale":{"range":[[7,3.5]]},"legend":{"orient":"top-right","title":null}}}}]},
{"width":282,"height":164,"title":"CDF of RL Top 1 Token Ranks","layer":[
 {"data":{"name":"d"},"transform":[{"filter":"datum.g=='c1'"}],"mark":{"type":"line","interpolate":"step-after","color":"#f08080","strokeWidth":1.5},
  "encoding":{"x":{"field":"r","type":"quantitative","scale":{"domain":[-0.9,31.4],"nice":false,"zero":false},"axis":{"values":[0,5,10,15,20,25,30],"title":"Rank in Base Distribution"}},
  "y":{"field":"c","type":"quantitative","scale":{"domain":[-0.05,1.05],"nice":false,"zero":false},"axis":{"values":[0,0.2,0.4,0.6,0.8,1],"format":".1f","title":"Cumulative Probability"}},"order":[{"field":"r"},{"field":"c"}]}},
 {"data":{"name":"m"},"transform":[{"filter":"datum.g=='c1'"}],"mark":{"type":"rule","color":"black","strokeWidth":1.8},
  "encoding":{"x":{"field":"m","type":"quantitative","axis":{"values":[0,5,10,15,20,25,30],"title":"Rank in Base Distribution"}},"strokeDash":{"field":"l","type":"nominal","scale":{"range":[[7,3.5]]},"legend":{"orient":"bottom-right","title":null}}}}]},
{"width":282,"height":164,"title":"Rank of RL Top 2 Token in Base Distribution","layer":[
 {"data":{"name":"d"},"transform":[{"filter":"datum.g=='c2'&&isValid(datum.p)"}],"mark":{"type":"bar","fill":"#6495ed","fillOpacity":0.7,"stroke":"#00008b","strokeOpacity":0.7,"strokeWidth":1,"binSpacing":0},
  "encoding":{"x":{"field":"r","type":"quantitative","bin":{"binned":true,"step":1},"scale":{"domain":[-1.6,33.3],"nice":false,"zero":false},"axis":{"values":[0,3,6,9,12,15,18,21,24,27,30],"title":"Rank in Base Distribution"}},
  "y":{"field":"p","type":"quantitative","scale":{"domain":[0,0.571],"nice":false},"axis":{"values":[0,0.1,0.2,0.3,0.4,0.5],"format":".1f","title":"Proportion"}}}},
 {"data":{"name":"m"},"transform":[{"filter":"datum.g=='c2'"}],"mark":{"type":"rule","color":"black","strokeWidth":1.8},
  "encoding":{"x":{"field":"m","type":"quantitative","axis":{"values":[0,3,6,9,12,15,18,21,24,27,30],"title":"Rank in Base Distribution"}},"strokeDash":{"field":"l","type":"nominal","scale":{"range":[[7,3.5]]},"legend":{"orient":"top-right","title":null}}}}]},
{"width":282,"height":164,"title":"CDF of RL Top 2 Token Ranks","layer":[
 {"data":{"name":"d"},"transform":[{"filter":"datum.g=='c2'"}],"mark":{"type":"line","interpolate":"step-after","color":"#6495ed","strokeWidth":1.5},
  "encoding":{"x":{"field":"r","type":"quantitative","scale":{"domain":[-0.9,31.4],"nice":false,"zero":false},"axis":{"values":[0,5,10,15,20,25,30],"title":"Rank in Base Distribution"}},
  "y":{"field":"c","type":"quantitative","scale":{"domain":[-0.05,1.05],"nice":false,"zero":false},"axis":{"values":[0,0.2,0.4,0.6,0.8,1],"format":".1f","title":"Cumulative Probability"}},"order":[{"field":"r"},{"field":"c"}]}},
 {"data":{"name":"m"},"transform":[{"filter":"datum.g=='c2'"}],"mark":{"type":"rule","color":"black","strokeWidth":1.8},
  "encoding":{"x":{"field":"m","type":"quantitative","axis":{"values":[0,5,10,15,20,25,30],"title":"Rank in Base Distribution"}},"strokeDash":{"field":"l","type":"nominal","scale":{"range":[[7,3.5]]},"legend":{"orient":"bottom-right","title":null}}}}]},
{"width":282,"height":164,"title":"Rank of RL Top 3 Token in Base Distribution","layer":[
 {"data":{"name":"d"},"transform":[{"filter":"datum.g=='c3'&&isValid(datum.p)"}],"mark":{"type":"bar","fill":"#7b68ee","fillOpacity":0.7,"stroke":"#2a1a9a","strokeOpacity":0.7,"strokeWidth":1,"binSpacing":0},
  "encoding":{"x":{"field":"r","type":"quantitative","bin":{"binned":true,"step":1},"scale":{"domain":[-1.6,33.3],"nice":false,"zero":false},"axis":{"values":[0,3,6,9,12,15,18,21,24,27,30],"title":"Rank in Base Distribution"}},
  "y":{"field":"p","type":"quantitative","scale":{"domain":[0,0.408],"nice":false},"axis":{"values":[0,0.1,0.2,0.3,0.4],"format":".1f","title":"Proportion"}}}},
 {"data":{"name":"m"},"transform":[{"filter":"datum.g=='c3'"}],"mark":{"type":"rule","color":"black","strokeWidth":1.8},
  "encoding":{"x":{"field":"m","type":"quantitative","axis":{"values":[0,3,6,9,12,15,18,21,24,27,30],"title":"Rank in Base Distribution"}},"strokeDash":{"field":"l","type":"nominal","scale":{"range":[[7,3.5]]},"legend":{"orient":"top-right","title":null}}}}]},
{"width":282,"height":164,"title":"CDF of RL Top 3 Token Ranks","layer":[
 {"data":{"name":"d"},"transform":[{"filter":"datum.g=='c3'"}],"mark":{"type":"line","interpolate":"step-after","color":"#7b68ee","strokeWidth":1.5},
  "encoding":{"x":{"field":"r","type":"quantitative","scale":{"domain":[-0.9,31.4],"nice":false,"zero":false},"axis":{"values":[0,5,10,15,20,25,30],"title":"Rank in Base Distribution"}},
  "y":{"field":"c","type":"quantitative","scale":{"domain":[-0.05,1.05],"nice":false,"zero":false},"axis":{"values":[0,0.2,0.4,0.6,0.8,1],"format":".1f","title":"Cumulative Probability"}},"order":[{"field":"r"},{"field":"c"}]}},
 {"data":{"name":"m"},"transform":[{"filter":"datum.g=='c3'"}],"mark":{"type":"rule","color":"black","strokeWidth":1.8},
  "encoding":{"x":{"field":"m","type":"quantitative","axis":{"values":[0,5,10,15,20,25,30],"title":"Rank in Base Distribution"}},"strokeDash":{"field":"l","type":"nominal","scale":{"range":[[7,3.5]]},"legend":{"orient":"bottom-right","title":null}}}}]}
],"columns":2,"spacing":{"column":9,"row":8.5},
"resolve": {"scale": {"strokeDash": "independent"}, "legend": {"strokeDash": "independent"}},
"title":{"text":"(c) DAPO (0.2) AIME 2024","orient":"bottom","anchor":"middle","frame":"bounds","font":"Liberation Serif","fontSize":27.9,"offset":23,"color":"black"}}
],"spacing":0,"resolve": {"scale": {"strokeDash": "independent"}, "legend": {"strokeDash": "independent"}}},
{"concat": [
{"width":283,"height":164,"title":"Rank of RL Top 1 Token in Base Distribution","layer":[
 {"data":{"name":"d"},"transform":[{"filter":"datum.g=='d1'&&isValid(datum.p)"}],"mark":{"type":"bar","fill":"#f08080","fillOpacity":0.7,"stroke":"#8b0000","strokeOpacity":0.7,"strokeWidth":1,"binSpacing":0},
  "encoding":{"x":{"field":"r","type":"quantitative","bin":{"binned":true,"step":1},"scale":{"domain":[-1.6,33.3],"nice":false,"zero":false},"axis":{"values":[0,3,6,9,12,15,18,21,24,27,30],"title":"Rank in Base Distribution"}},
  "y":{"field":"p","type":"quantitative","scale":{"domain":[0,0.677],"nice":false},"axis":{"values":[0,0.1,0.2,0.3,0.4,0.5,0.6],"format":".1f","title":"Proportion"}}}},
 {"data":{"name":"m"},"transform":[{"filter":"datum.g=='d1'"}],"mark":{"type":"rule","color":"black","strokeWidth":1.8},
  "encoding":{"x":{"field":"m","type":"quantitative","axis":{"values":[0,3,6,9,12,15,18,21,24,27,30],"title":"Rank in Base Distribution"}},"strokeDash":{"field":"l","type":"nominal","scale":{"range":[[7,3.5]]},"legend":{"orient":"top-right","title":null}}}}]},
{"width":279,"height":164,"title":"CDF of RL Top 1 Token Ranks","layer":[
 {"data":{"name":"d"},"transform":[{"filter":"datum.g=='d1'"}],"mark":{"type":"line","interpolate":"step-after","color":"#f08080","strokeWidth":1.5},
  "encoding":{"x":{"field":"r","type":"quantitative","scale":{"domain":[-0.9,31.4],"nice":false,"zero":false},"axis":{"values":[0,5,10,15,20,25,30],"title":"Rank in Base Distribution"}},
  "y":{"field":"c","type":"quantitative","scale":{"domain":[-0.05,1.05],"nice":false,"zero":false},"axis":{"values":[0,0.2,0.4,0.6,0.8,1],"format":".1f","title":"Cumulative Probability"}},"order":[{"field":"r"},{"field":"c"}]}},
 {"data":{"name":"m"},"transform":[{"filter":"datum.g=='d1'"}],"mark":{"type":"rule","color":"black","strokeWidth":1.8},
  "encoding":{"x":{"field":"m","type":"quantitative","axis":{"values":[0,5,10,15,20,25,30],"title":"Rank in Base Distribution"}},"strokeDash":{"field":"l","type":"nominal","scale":{"range":[[7,3.5]]},"legend":{"orient":"bottom-right","title":null}}}}]},
{"width":283,"height":164,"title":"Rank of RL Top 2 Token in Base Distribution","layer":[
 {"data":{"name":"d"},"transform":[{"filter":"datum.g=='d2'&&isValid(datum.p)"}],"mark":{"type":"bar","fill":"#6495ed","fillOpacity":0.7,"stroke":"#00008b","strokeOpacity":0.7,"strokeWidth":1,"binSpacing":0},
  "encoding":{"x":{"field":"r","type":"quantitative","bin":{"binned":true,"step":1},"scale":{"domain":[-1.6,33.3],"nice":false,"zero":false},"axis":{"values":[0,3,6,9,12,15,18,21,24,27,30],"title":"Rank in Base Distribution"}},
  "y":{"field":"p","type":"quantitative","scale":{"domain":[0,0.56],"nice":false},"axis":{"values":[0,0.1,0.2,0.3,0.4,0.5],"format":".1f","title":"Proportion"}}}},
 {"data":{"name":"m"},"transform":[{"filter":"datum.g=='d2'"}],"mark":{"type":"rule","color":"black","strokeWidth":1.8},
  "encoding":{"x":{"field":"m","type":"quantitative","axis":{"values":[0,3,6,9,12,15,18,21,24,27,30],"title":"Rank in Base Distribution"}},"strokeDash":{"field":"l","type":"nominal","scale":{"range":[[7,3.5]]},"legend":{"orient":"top-right","title":null}}}}]},
{"width":279,"height":164,"title":"CDF of RL Top 2 Token Ranks","layer":[
 {"data":{"name":"d"},"transform":[{"filter":"datum.g=='d2'"}],"mark":{"type":"line","interpolate":"step-after","color":"#6495ed","strokeWidth":1.5},
  "encoding":{"x":{"field":"r","type":"quantitative","scale":{"domain":[-0.9,31.4],"nice":false,"zero":false},"axis":{"values":[0,5,10,15,20,25,30],"title":"Rank in Base Distribution"}},
  "y":{"field":"c","type":"quantitative","scale":{"domain":[-0.05,1.05],"nice":false,"zero":false},"axis":{"values":[0,0.2,0.4,0.6,0.8,1],"format":".1f","title":"Cumulative Probability"}},"order":[{"field":"r"},{"field":"c"}]}},
 {"data":{"name":"m"},"transform":[{"filter":"datum.g=='d2'"}],"mark":{"type":"rule","color":"black","strokeWidth":1.8},
  "encoding":{"x":{"field":"m","type":"quantitative","axis":{"values":[0,5,10,15,20,25,30],"title":"Rank in Base Distribution"}},"strokeDash":{"field":"l","type":"nominal","scale":{"range":[[7,3.5]]},"legend":{"orient":"bottom-right","title":null}}}}]},
{"width":283,"height":164,"title":"Rank of RL Top 3 Token in Base Distribution","layer":[
 {"data":{"name":"d"},"transform":[{"filter":"datum.g=='d3'&&isValid(datum.p)"}],"mark":{"type":"bar","fill":"#7b68ee","fillOpacity":0.7,"stroke":"#2a1a9a","strokeOpacity":0.7,"strokeWidth":1,"binSpacing":0},
  "encoding":{"x":{"field":"r","type":"quantitative","bin":{"binned":true,"step":1},"scale":{"domain":[-1.6,33.3],"nice":false,"zero":false},"axis":{"values":[0,3,6,9,12,15,18,21,24,27,30],"title":"Rank in Base Distribution"}},
  "y":{"field":"p","type":"quantitative","scale":{"domain":[0,0.437],"nice":false},"axis":{"values":[0,0.1,0.2,0.3,0.4],"format":".1f","title":"Proportion"}}}},
 {"data":{"name":"m"},"transform":[{"filter":"datum.g=='d3'"}],"mark":{"type":"rule","color":"black","strokeWidth":1.8},
  "encoding":{"x":{"field":"m","type":"quantitative","axis":{"values":[0,3,6,9,12,15,18,21,24,27,30],"title":"Rank in Base Distribution"}},"strokeDash":{"field":"l","type":"nominal","scale":{"range":[[7,3.5]]},"legend":{"orient":"top-right","title":null}}}}]},
{"width":279,"height":164,"title":"CDF of RL Top 3 Token Ranks","layer":[
 {"data":{"name":"d"},"transform":[{"filter":"datum.g=='d3'"}],"mark":{"type":"line","interpolate":"step-after","color":"#7b68ee","strokeWidth":1.5},
  "encoding":{"x":{"field":"r","type":"quantitative","scale":{"domain":[-0.9,31.4],"nice":false,"zero":false},"axis":{"values":[0,5,10,15,20,25,30],"title":"Rank in Base Distribution"}},
  "y":{"field":"c","type":"quantitative","scale":{"domain":[-0.05,1.05],"nice":false,"zero":false},"axis":{"values":[0,0.2,0.4,0.6,0.8,1],"format":".1f","title":"Cumulative Probability"}},"order":[{"field":"r"},{"field":"c"}]}},
 {"data":{"name":"m"},"transform":[{"filter":"datum.g=='d3'"}],"mark":{"type":"rule","color":"black","strokeWidth":1.8},
  "encoding":{"x":{"field":"m","type":"quantitative","axis":{"values":[0,5,10,15,20,25,30],"title":"Rank in Base Distribution"}},"strokeDash":{"field":"l","type":"nominal","scale":{"range":[[7,3.5]]},"legend":{"orient":"bottom-right","title":null}}}}]}
],"columns":2,"spacing":{"column":9,"row":8.5},
"resolve": {"scale": {"strokeDash": "independent"}, "legend": {"strokeDash": "independent"}},
"title":{"text":"(d) DAPO (0.2) AIME 2025","orient":"bottom","anchor":"middle","frame":"bounds","font":"Liberation Serif","fontSize":27.9,"offset":23,"color":"black"}}
],"spacing":64,"resolve": {"scale": {"strokeDash": "independent"}, "legend": {"strokeDash": "independent"}}}
],
"config": {
 "font": "DejaVu Sans",
 "view": {"stroke": "#333333", "strokeWidth": 1},
 "axis": {"domain": false, "grid": true, "gridColor": "#e4e4e4", "gridWidth": 0.8, "tickColor": "#333333", "tickSize": 3.5, "labelFontSize": 9, "labelColor": "#222222", "labelPadding": 3.5, "labelOverlap": false, "labelFont": "DejaVu Sans", "titleFont": "DejaVu Sans", "titleFontSize": 9.1, "titleFontWeight": "normal", "titleColor": "#222222", "titlePadding": 3},
 "axisX": {"titlePadding": 2},
 "title": {"fontSize": 11, "fontWeight": "normal", "font": "DejaVu Sans", "color": "#111111", "offset": 4},
 "legend": {"symbolType": "stroke", "symbolStrokeColor": "black", "symbolStrokeWidth": 1.8, "symbolSize": 300, "labelFontSize": 9.1, "labelFont": "DejaVu Sans", "labelColor": "#222222", "strokeColor": "#cccccc", "fillColor": "white", "padding": 5, "cornerRadius": 3, "offset": 4, "labelOffset": 6}
}
}
